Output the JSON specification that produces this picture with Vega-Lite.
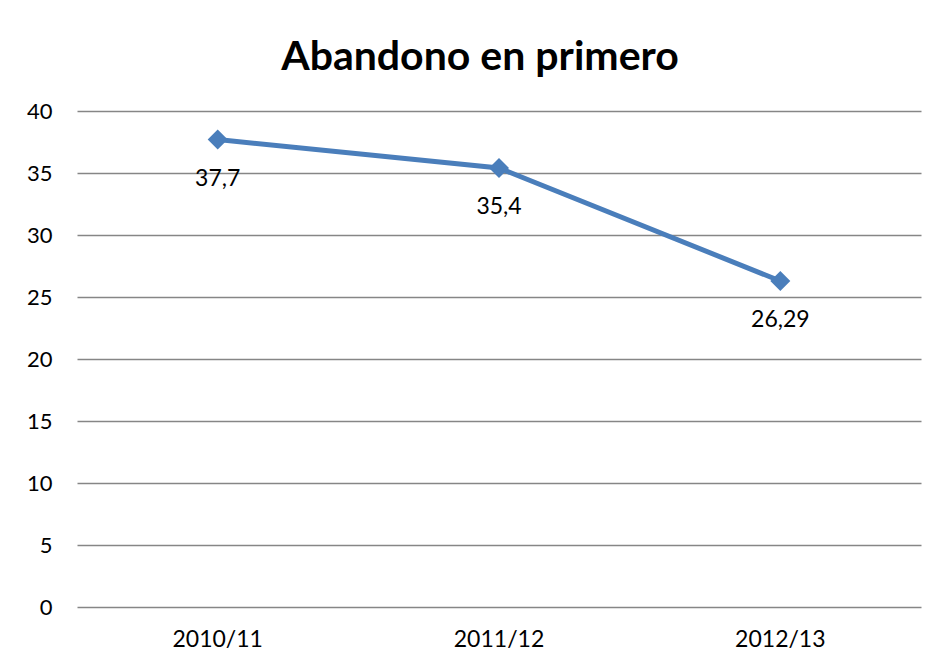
{
  "$schema": "https://vega.github.io/schema/vega-lite/v6.json",
  "autosize": {"type": "none"},
  "padding": {"left": 77, "top": 111, "right": 20, "bottom": 59},
  "width": 844,
  "height": 496,
  "background": "white",
  "config": {"view": {"stroke": null}, "font": "Lato"},
  "title": {
    "text": "Abandono en primero",
    "font": "Lato",
    "fontSize": 41,
    "fontWeight": "bold",
    "color": "black",
    "anchor": "middle",
    "frame": "group",
    "dx": -19,
    "baseline": "alphabetic",
    "offset": -11
  },
  "data": {
    "values": [
      {"curso": "2010/11", "valor": 37.7, "label": "37,7"},
      {"curso": "2011/12", "valor": 35.4, "label": "35,4"},
      {"curso": "2012/13", "valor": 26.29, "label": "26,29"}
    ]
  },
  "encoding": {
    "x": {
      "field": "curso",
      "type": "nominal",
      "scale": {"type": "band", "paddingInner": 0, "paddingOuter": 0},
      "axis": {
        "title": null,
        "labelAngle": 0,
        "labelFontSize": 23,
        "labelColor": "black",
        "labelPadding": 21,
        "ticks": false,
        "domain": false,
        "grid": false
      }
    },
    "y": {
      "field": "valor",
      "type": "quantitative",
      "scale": {"domain": [0, 40]},
      "axis": {
        "title": null,
        "values": [0, 5, 10, 15, 20, 25, 30, 35, 40],
        "labelFontSize": 22,
        "labelColor": "black",
        "labelPadding": 25,
        "ticks": false,
        "domain": false,
        "grid": true,
        "gridColor": "#868686",
        "gridWidth": 1.5,
        "gridOpacity": 1
      }
    }
  },
  "layer": [
    {
      "mark": {"type": "line", "color": "#4a7ebb", "strokeWidth": 5},
      "encoding": {}
    },
    {
      "mark": {"type": "point", "shape": "diamond", "size": 400, "filled": true, "color": "#4a7ebb", "opacity": 1},
      "encoding": {}
    },
    {
      "mark": {"type": "text", "fontSize": 23, "color": "black", "baseline": "middle", "dy": 39},
      "encoding": {"text": {"field": "label"}}
    }
  ]
}
